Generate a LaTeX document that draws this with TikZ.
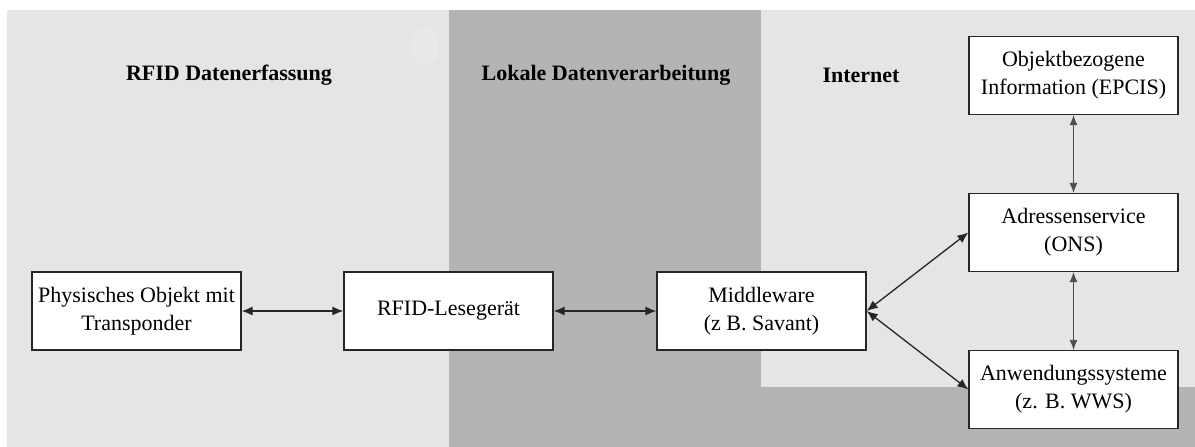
\documentclass[tikz,border=0pt]{standalone}
\usepackage{fontspec}
\setmainfont{Liberation Serif}
\usetikzlibrary{arrows.meta}
\definecolor{panellight}{HTML}{E5E5E5}
\definecolor{paneldark}{HTML}{B4B4B4}
\definecolor{blobcol}{HTML}{E9E9E9}
\begin{document}
\begin{tikzpicture}[x=1pt,y=-1pt,
  box/.style={draw=black!85, line width=1.3pt, fill=white, minimum width=209pt,
    minimum height=78pt, align=center, inner sep=2pt,
    font=\fontsize{22}{28}\selectfont},
  title/.style={font=\fontsize{22}{26}\selectfont\bfseries},
  link/.style={line width=1.3pt, draw=black!85,
    {Latex[length=11pt,width=9pt]}-{Latex[length=11pt,width=9pt]}},
  thinlink/.style={line width=0.8pt, draw=black!70,
    {Latex[length=10pt,width=8pt]}-{Latex[length=10pt,width=8pt]}}]
  \useasboundingbox (0,0) rectangle (1195,447);
  \fill[white] (0,0) rectangle (1195,447);
  % background zones
  \fill[panellight] (7,10) rectangle (449,447);
  \fill[paneldark] (449,10) rectangle (761,447);
  \fill[paneldark] (761,387) rectangle (1195,447);
  \fill[panellight] (761,10) rectangle (1195,387);
  \fill[blobcol] (425,46) ellipse (14pt and 19pt);
  % zone titles
  \node[title] (t1) at (229,75) {RFID Datenerfassung};
  \node[title] (t2) at (606,75) {Lokale Datenverarbeitung};
  \node[title] (t3) at (861,75) {Internet};
  % components
  \node[box] (obj) at (136.5,311) {Physisches Objekt mit\\Transponder};
  \node[box] (rd)  at (448.5,311) {RFID-Lesegerät};
  \node[box] (mw)  at (761.5,311) {Middleware\\(z B. Savant)};
  \node[box] (epc) at (1073.5,75.5) {Objektbezogene\\Information (EPCIS)};
  \node[box] (ons) at (1073.5,232.5) {Adressenservice\\(ONS)};
  \node[box] (app) at (1073.5,389.5) {Anwendungssysteme\\(z. B. WWS)};
  % connections
  \draw[link] (obj.east) -- (rd.west);
  \draw[link] (rd.east) -- (mw.west);
  \draw[link] (mw.east) -- (ons.west);
  \draw[link] (mw.east) -- (app.west);
  \draw[thinlink] (epc.south) -- (ons.north);
  \draw[thinlink] (ons.south) -- (app.north);
\end{tikzpicture}
\end{document}
